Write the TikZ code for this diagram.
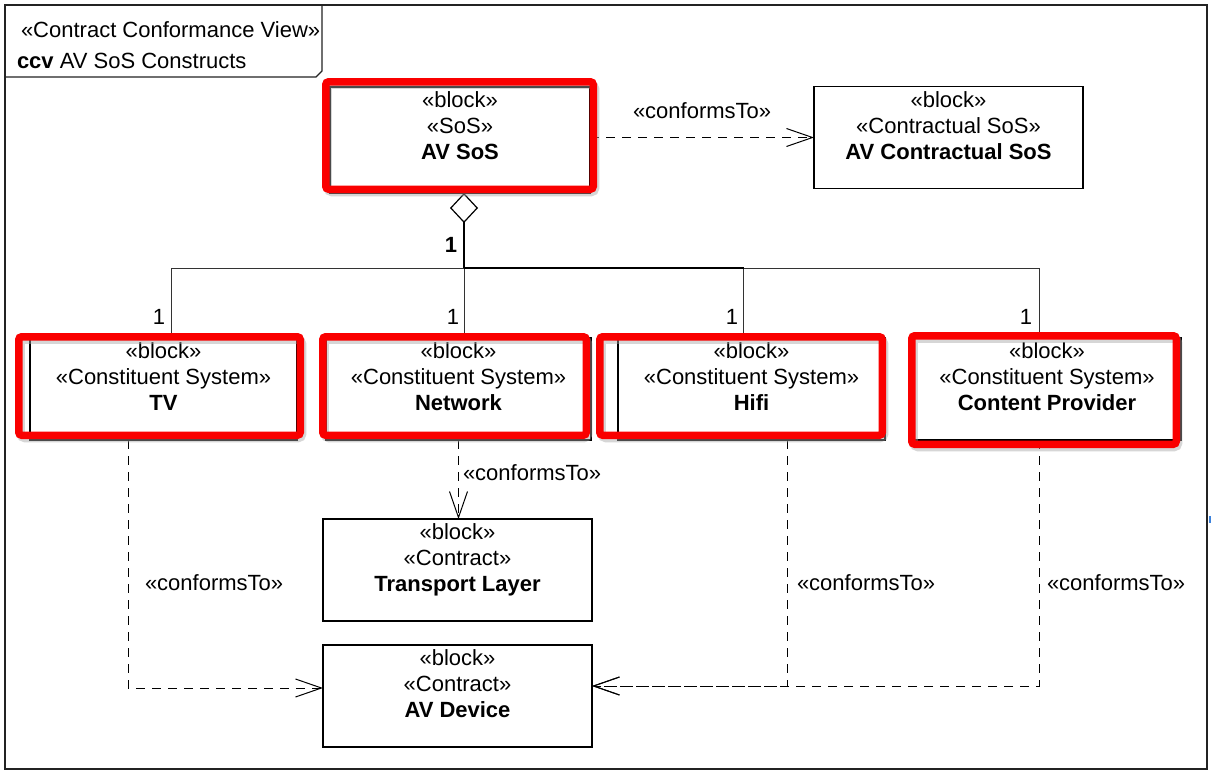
\documentclass[tikz,border=0pt]{standalone}
\usepackage{fontspec}
\setmainfont{Liberation Sans}
\usetikzlibrary{arrows.meta}
\definecolor{hl}{RGB}{250,0,0}
\definecolor{framecol}{RGB}{35,35,35}
\definecolor{marker}{RGB}{60,130,220}

\begin{document}
\begin{tikzpicture}[x=1pt,y=-1pt,
  every node/.style={font=\fontsize{22}{26}\selectfont, inner sep=0pt, outer sep=0pt},
  blk/.style={draw=black, line width=1.4pt, fill=white, rectangle},
  stereo/.style={anchor=north, align=center, yshift=-5pt},
  lbl/.style={anchor=base west},
  mult/.style={anchor=base east},
  hlbox/.style={draw=hl, line width=7.5pt, rounded corners=3pt},
  hlshadow/.style={draw=black!35, line width=8pt, rounded corners=4pt, opacity=0.45},
  tree/.style={draw=black!80, line width=1pt},
  dep/.style={draw=black, line width=1pt, dash pattern=on 9pt off 7pt,
              -{Straight Barb[length=26pt,width=18pt]}}]

\useasboundingbox (0,0) rectangle (1211,771);
\fill[white] (0,0) rectangle (1211,771);

% diagram frame and its name tab
\draw[framecol, line width=2pt] (5,5) rectangle (1207,769);
\draw[framecol, line width=1.2pt] (5,77) -- (316,77) -- (322,71) -- (322,5);
\node[lbl] (hdr1) at (21,37) {«Contract Conformance View»};
\node[lbl] (hdr2) at (17,68) {\textbf{ccv} AV SoS Constructs};
\fill[marker] (1208.5,516) rectangle (1211,523);

% blocks
\node[blk, minimum width=260pt, minimum height=106pt] (sos) at (460,140) {};
\node[stereo] (sosT) at (sos.north) {«block»\\«SoS»\\\textbf{AV SoS}};

\node[blk, minimum width=269pt, minimum height=102pt] (acs) at (948.5,137.5) {};
\node[stereo] (acsT) at (acs.north) {«block»\\«Contractual SoS»\\\textbf{AV Contractual SoS}};

\node[blk, minimum width=267pt, minimum height=102pt] (tv) at (163.5,389) {};
\node[stereo] (tvT) at (tv.north) {«block»\\«Constituent System»\\\textbf{TV}};

\node[blk, minimum width=265pt, minimum height=102pt] (net) at (458.5,389) {};
\node[stereo] (netT) at (net.north) {«block»\\«Constituent System»\\\textbf{Network}};

\node[blk, minimum width=267pt, minimum height=102pt] (hifi) at (751.5,389) {};
\node[stereo] (hifiT) at (hifi.north) {«block»\\«Constituent System»\\\textbf{Hifi}};

\node[blk, minimum width=268pt, minimum height=102pt] (cp) at (1047,389) {};
\node[stereo] (cpT) at (cp.north) {«block»\\«Constituent System»\\\textbf{Content Provider}};

\node[blk, minimum width=269pt, minimum height=102pt] (tl) at (457.5,570) {};
\node[stereo] (tlT) at (tl.north) {«block»\\«Contract»\\\textbf{Transport Layer}};

\node[blk, minimum width=269pt, minimum height=102pt] (avd) at (457.5,696) {};
\node[stereo] (avdT) at (avd.north) {«block»\\«Contract»\\\textbf{AV Device}};

% composition tree
\coordinate (jsos) at (464,268);
\coordinate (jtv) at (171,268);
\coordinate (jnet) at (464,268);
\coordinate (jhifi) at (743.5,268);
\coordinate (jcp) at (1039,268);
\draw[tree] (jtv) -- (jcp);
\draw[tree] (jtv) -- (jtv |- tv.north);
\draw[tree] (jnet) -- (jnet |- net.north);
\draw[tree] (jhifi) -- (jhifi |- hifi.north);
\draw[tree] (jcp) -- (jcp |- cp.north);
\draw[draw=black, line width=1.6pt] (jnet) -- (jhifi);
\draw[draw=black, line width=1.6pt, -{Diamond[open, length=30pt, width=28pt, line width=1.2pt]}]
  (jsos) -- (jsos |- sos.south);
\node[mult, font=\fontsize{22}{26}\selectfont\bfseries] (m0) at (457,252) {1};
\node[mult] (m1) at (165,324) {1};
\node[mult] (m2) at (459,324) {1};
\node[mult] (m3) at (738,324) {1};
\node[mult] (m4) at (1032,324) {1};

% conformance dependencies
\draw[dep] (sos.east |- acs.west) -- (acs.west);
\draw[dep] (net.south) -- (net.south |- tl.north);
\draw[dep] ([xshift=-35.5pt]tv.south) |- ([yshift=8pt]avd.west);
\draw[dep] ([xshift=35.5pt]hifi.south) |- ([yshift=10pt]avd.east);
\draw[dep] ([xshift=-8pt]cp.south) |- ([yshift=10pt]avd.east);
\node[lbl] (c1) at (633,118) {«conformsTo»};
\node[lbl] (c2) at (463,480) {«conformsTo»};
\node[lbl] (c3) at (145,590) {«conformsTo»};
\node[lbl] (c4) at (797,590) {«conformsTo»};
\node[lbl] (c5) at (1047,590) {«conformsTo»};

% red highlight frames
\foreach \ax/\ay/\bx/\by in {325.75/81.75/593.25/189.25, 18.75/336.75/300.25/435.25,
    322.75/336.75/586.25/435.25, 599.75/336.75/882.25/435.25, 911.75/335.75/1176.25/444.25} {
  \draw[hlshadow] (\ax+2,\ay+3) rectangle (\bx+2,\by+3);
}
\draw[hlbox] (325.75,81.75) rectangle (593.25,189.25);
\draw[hlbox] (18.75,336.75) rectangle (300.25,435.25);
\draw[hlbox] (322.75,336.75) rectangle (586.25,435.25);
\draw[hlbox] (599.75,336.75) rectangle (882.25,435.25);
\draw[hlbox] (911.75,335.75) rectangle (1176.25,444.25);
\end{tikzpicture}
\end{document}
